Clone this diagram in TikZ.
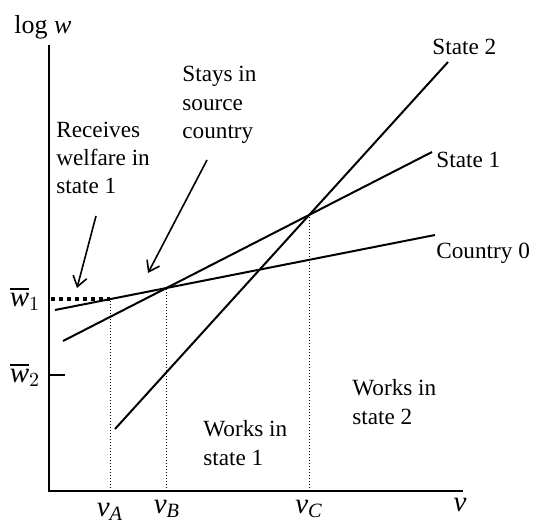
\documentclass[tikz,border=0pt]{standalone}
\usepackage{amsmath}
\usepackage{fontspec}
\setmainfont{Liberation Serif}
\usetikzlibrary{arrows.meta}
\begin{document}
\begin{tikzpicture}
    [x=0.5pt,y=0.5pt,
     every node/.style={inner sep=0pt,font=\fontsize{11.6}{14.2}\selectfont},
     lbl/.style={anchor=west,align=left},
     mlbl/.style={font=\fontsize{14.5}{17}\selectfont},
     axis/.style={line width=1.2pt},
     curve/.style={line width=1pt},
     guide/.style={line width=0.4pt,dash pattern=on 0.5pt off 1pt},
     pointer/.style={line width=0.8pt,-{Straight Barb[length=5pt,width=7pt]}}]
    \useasboundingbox (0,0) rectangle (544,525);
    % axes
    \coordinate (o) at (49,34);
    \coordinate (top) at (49,480);
    \coordinate (right) at (463,34);
    \draw[axis] (top) -- (o) -- (right);
    \node (logw) at (43,498) {\fontsize{13}{15}\selectfont log \textit{w}};
    % wage lines
    \coordinate (c0s) at (55,215);
    \coordinate (c0e) at (435,290);
    \coordinate (s1s) at (63,184);
    \coordinate (s1e) at (432,373);
    \coordinate (s2s) at (115,96);
    \coordinate (s2e) at (448,463);
    \foreach \from/\to in {c0s/c0e,s1s/s1e,s2s/s2e}
      \draw[curve] (\from) -- (\to);
    \node[lbl] (country0) at (436,272) {Country 0};
    \node[lbl] (state1) at (436,365) {State 1};
    \node[lbl] (state2) at (432,478) {State 2};
    % thresholds
    \coordinate (a) at (110,226);
    \coordinate (b) at (166,237);
    \coordinate (c) at (309,310);
    \coordinate (ax) at (110,34);
    \coordinate (bx) at (166,34);
    \coordinate (cx) at (309,34);
    \foreach \from/\to in {ax/a,bx/b,cx/c}
      \draw[guide] (\from) -- (\to);
    \coordinate (w1) at (51,226);
    \draw[line width=2pt,dash pattern=on 2.2pt off 1.8pt] (w1) -- (a);
    \coordinate (w2) at (49,150);
    \coordinate (w2t) at (65,150);
    \draw[axis] (w2) -- (w2t);
    \node[mlbl] (w1lbl) at (25,226) {$\overline{\textit{w}}_1$};
    \node[mlbl] (w2lbl) at (25,150) {$\overline{\textit{w}}_2$};
    \node[mlbl,anchor=base] (va) at (110,9) {$\textit{v}_{\textit{A}}$};
    \node[mlbl,anchor=base] (vb) at (167,12) {$\textit{v}_{\textit{B}}$};
    \node[mlbl,anchor=base] (vc) at (309,12) {$\textit{v}_{\textit{C}}$};
    \node[mlbl,anchor=base] (v) at (460,14) {\textit{v}};
    % regions
    \node[lbl] (welfare) at (56,367) {Receives\\welfare in\\state 1};
    \node[lbl] (stays) at (182,420) {Stays in\\source\\country};
    \node[lbl] (works1) at (203,82) {Works in\\state 1};
    \node[lbl] (works2) at (352,123) {Works in\\state 2};
    \coordinate (welfaretip) at (77,237);
    \coordinate (welfaretail) at (96,309);
    \coordinate (staystip) at (148,252);
    \coordinate (staystail) at (207,365);
    \foreach \from/\to in {welfaretail/welfaretip,staystail/staystip}
      \draw[pointer] (\from) -- (\to);
\end{tikzpicture}
\end{document}
